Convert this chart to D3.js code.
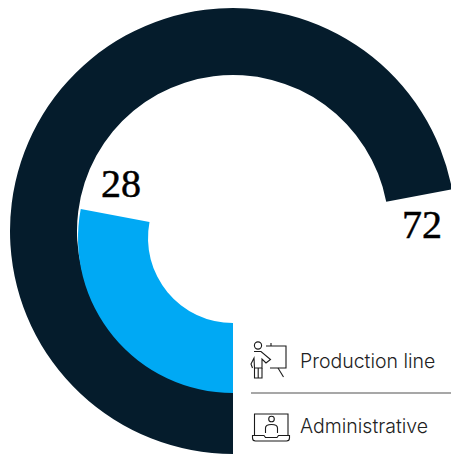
<!DOCTYPE html>
<html>
<head>
<meta charset="utf-8">
<script src="https://cdn.jsdelivr.net/npm/d3@7"></script>
<style>
html,body{margin:0;padding:0;background:#fff;overflow:hidden}
svg{display:block}
</style>
</head>
<body>
<svg id="chart" width="451" height="455"></svg>
<script>
const categories = ["Production line", "Administrative"];
const shares = [72, 28];
const colours = ["#051c2c", "#00a9f4"];

const svg = d3.select("#chart");
const total = d3.sum(shares);
const angle = d3.scaleLinear().domain([0, total]).range([Math.PI, 3 * Math.PI]);

// Each ring sweeps clockwise from six o'clock; the rings are not concentric.
const rings = [
  {cx: 233, cy: 231, inner: 156, outer: 223},
  {cx: 233, cy: 238, inner: 85, outer: 155}
];

rings.forEach((ring, i) => {
  svg.append("path")
    .attr("transform", `translate(${ring.cx},${ring.cy})`)
    .attr("fill", colours[i])
    .attr("d", d3.arc()({
      innerRadius: ring.inner,
      outerRadius: ring.outer,
      startAngle: angle(0),
      endAngle: angle(shares[i])
    }));
});

// Share labels beside the end of each arc
const labelPos = [[422, 238], [121, 197]];
svg.selectAll("text.value")
  .data(shares)
  .join("text")
  .attr("class", "value")
  .attr("x", (d, i) => labelPos[i][0])
  .attr("y", (d, i) => labelPos[i][1])
  .attr("text-anchor", "middle")
  .attr("font-family", "'Liberation Serif', serif")
  .attr("font-size", 40)
  .attr("fill", "#000")
  .attr("stroke", "#000")
  .attr("stroke-width", 0.5)
  .text(d => d);

// Legend
const legendY = [368, 433];
svg.selectAll("text.legend")
  .data(categories)
  .join("text")
  .attr("class", "legend")
  .attr("x", 300)
  .attr("y", (d, i) => legendY[i])
  .attr("font-family", "Inter, 'Noto Sans', sans-serif")
  .attr("font-weight", 300)
  .attr("font-size", 19.5)
  .attr("fill", "#222")
  .text(d => d);

svg.append("line")
  .attr("x1", 251).attr("x2", 451)
  .attr("y1", 393).attr("y2", 393)
  .attr("stroke", "#8a8a8a").attr("stroke-width", 1.5);

const icon = svg.append("g")
  .attr("fill", "none")
  .attr("stroke", "#1a1a1a")
  .attr("stroke-width", 1.1);

// Presenter at a board
icon.append("circle").attr("cx", 258).attr("cy", 345.5).attr("r", 3.6);
icon.append("path").attr("d", "M266 346H286V368H270");
icon.append("path").attr("d", "M271 346V343");
icon.append("path").attr("d", "M278 368L283.5 377");
icon.append("path").attr("d", "M254 351.5H261L270.5 359.5L266 363L262 359V368H254.5L254 358L251 364L252.5 368");
icon.append("path").attr("d", "M254.5 368V378H262V368M258.2 368V378");

// Person on a laptop screen
icon.append("path").attr("d", "M254.5 435V414H288V435");
icon.append("circle").attr("cx", 271.5).attr("cy", 419).attr("r", 2.8);
icon.append("path").attr("d", "M265.5 433V428Q265.5 424.5 271.5 424.5Q277.5 424.5 277.5 428V433");
icon.append("path").attr("d", "M252.5 435.5H264L265.5 437.5H277L278.5 435.5H289.5V438Q289.5 441 286.5 441H255.5Q252.5 441 252.5 438Z");
</script>
</body>
</html>
